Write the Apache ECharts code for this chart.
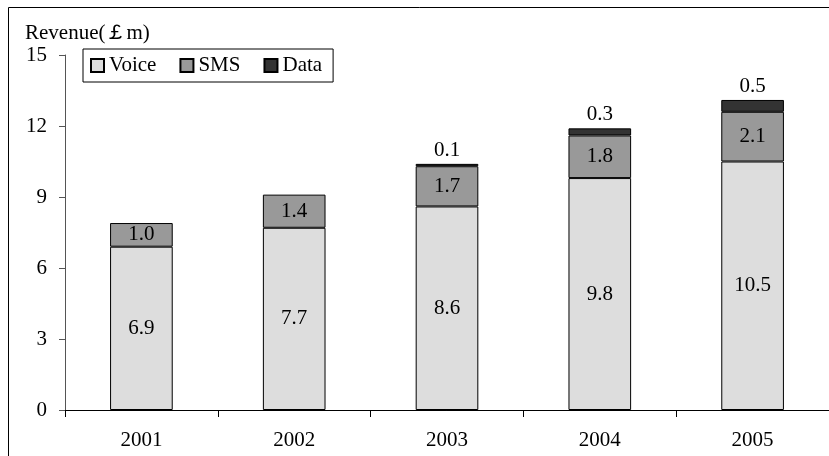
<!DOCTYPE html>
<html>
<head>
<meta charset="utf-8">
<script src="https://cdn.jsdelivr.net/npm/echarts@6/dist/echarts.min.js"></script>
<style>
html,body{margin:0;padding:0;background:#fff;}
#chart{width:829px;height:456px;}
</style>
</head>
<body>
<div id="chart"></div>
<script>
// Mobile revenue by service, £m
const years = ['2001', '2002', '2003', '2004', '2005'];
const voice = [6.9, 7.7, 8.6, 9.8, 10.5];
const sms = [1.0, 1.4, 1.7, 1.8, 2.1];
const dataRev = [null, null, 0.1, 0.3, 0.5];
const yTicks = [0, 3, 6, 9, 12, 15];

const FONT = '"Liberation Serif", "Times New Roman", serif';
const FS = 21;

const chart = echarts.init(document.getElementById('chart'));

const seg = (name, values, color, labelPos) => ({
  name: name,
  type: 'bar',
  stack: 'rev',
  barWidth: '41%',
  data: values,
  itemStyle: { color: color, borderColor: '#000', borderWidth: 1 },
  label: {
    show: true,
    position: labelPos,
    distance: 3,
    fontFamily: FONT,
    fontSize: FS,
    color: '#000',
    formatter: p => (p.value == null ? '' : p.value.toFixed(1))
  }
});

chart.setOption({
  animation: false,
  textStyle: { fontFamily: FONT },
  title: {
    text: 'Revenue(￡m)',
    left: 20,
    top: 18,
    textStyle: { fontFamily: FONT, fontSize: FS, fontWeight: 'normal', color: '#000' }
  },
  legend: {
    left: 83,
    top: 49,
    orient: 'horizontal',
    icon: 'rect',
    itemWidth: 13,
    itemHeight: 13,
    itemGap: 23,
    padding: [6, 11, 6, 7],
    borderColor: '#000',
    borderWidth: 1,
    textStyle: { fontFamily: FONT, fontSize: FS, color: '#000' },
    data: ['Voice', 'SMS', 'Data']
  },
  grid: { left: 65, right: 0, top: 55, bottom: 46, containLabel: false },
  xAxis: {
    type: 'category',
    data: years,
    axisLine: { lineStyle: { color: '#000', width: 1 } },
    axisTick: { show: true, length: 7, lineStyle: { color: '#000' } },
    axisLabel: { fontFamily: FONT, fontSize: FS, color: '#000', margin: 20 }
  },
  yAxis: {
    type: 'value',
    min: yTicks[0],
    max: yTicks[yTicks.length - 1],
    interval: 3,
    splitLine: { show: false },
    axisLine: { show: true, lineStyle: { color: '#555', width: 1 } },
    axisTick: { show: true, length: 6, lineStyle: { color: '#555' } },
    axisLabel: { fontFamily: FONT, fontSize: FS, color: '#000', margin: 18 }
  },
  series: [
    seg('Voice', voice, '#dddddd', 'inside'),
    seg('SMS', sms, '#999999', 'inside'),
    seg('Data', dataRev, '#333333', 'top')
  ],
  graphic: [{
    type: 'rect',
    shape: { x: 8.5, y: 7.5, width: 830, height: 460 },
    style: { fill: 'none', stroke: '#000', lineWidth: 1 },
    silent: true
  }]
});
</script>
</body>
</html>
